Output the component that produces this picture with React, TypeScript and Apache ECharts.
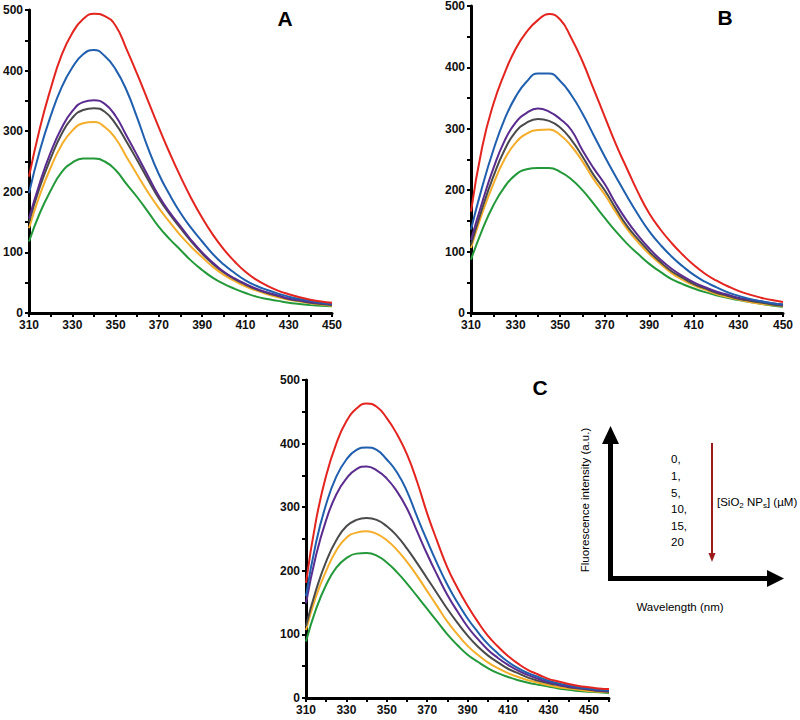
import React, { useEffect, useRef } from "react";
import * as echarts from "echarts";

// Wavelengths (nm)
const X = [310, 315, 320, 325, 330, 335, 340, 345, 350, 355, 360, 365, 370, 375, 380, 385, 390, 395, 400, 405, 410, 415, 420, 425, 430, 435, 440, 445, 450];
const XC = [...X, 455, 460];

// [SiO2 NPs] (µM) levels
const LEVELS = ["0,", "1,", "5,", "10,", "15,", "20"];
const COLORS = ["#e3241f", "#1f5fae", "#5b2c8f", "#4a4a4a", "#f5ae2a", "#23993a"];

// Panel A
const A0 = [225, 305, 370, 425, 462, 485, 494, 490, 474, 436, 394, 350, 306, 264, 225, 189, 157, 129, 105, 85, 68, 55, 45, 37, 31, 26, 22, 19, 17];
const A1 = [198, 268, 325, 372, 405, 427, 434, 424, 402, 368, 322, 272, 229, 195, 165, 140, 118, 97, 80, 66, 54, 45, 38, 32, 27, 23, 20, 17, 15];
const A5 = [156, 215, 265, 305, 333, 348, 351, 345, 325, 293, 260, 226, 193, 166, 143, 120, 100, 83, 68, 57, 48, 40, 34, 29, 24, 21, 18, 16, 14];
const A10 = [150, 208, 255, 295, 322, 335, 338, 332, 312, 283, 252, 220, 189, 163, 140, 118, 98, 81, 67, 56, 47, 39, 33, 28, 23, 20, 17, 15, 13];
const A15 = [140, 195, 240, 277, 301, 313, 315, 307, 288, 258, 228, 199, 173, 150, 128, 109, 92, 76, 63, 53, 44, 37, 31, 26, 22, 19, 16, 14, 12];
const A20 = [118, 165, 202, 232, 248, 255, 255, 250, 236, 213, 191, 167, 142, 122, 104, 86, 71, 58, 48, 40, 33, 27, 23, 20, 17, 15, 13, 12, 11];

// Panel B
const B0 = [165, 270, 340, 390, 430, 458, 477, 487, 478, 448, 410, 365, 320, 275, 235, 196, 162, 136, 114, 95, 78, 64, 53, 44, 36, 30, 25, 21, 18];
const B1 = [136, 205, 265, 315, 352, 377, 390, 390, 378, 355, 325, 290, 255, 222, 190, 160, 133, 111, 92, 76, 62, 51, 42, 34, 28, 23, 19, 16, 14];
const B5 = [119, 180, 235, 280, 310, 326, 333, 328, 316, 298, 265, 236, 210, 178, 150, 126, 105, 87, 72, 60, 50, 42, 35, 30, 25, 22, 19, 16, 14];
const B10 = [111, 170, 222, 265, 295, 310, 316, 313, 302, 282, 255, 225, 200, 170, 142, 120, 100, 83, 68, 57, 47, 40, 33, 28, 23, 20, 17, 14, 12];
const B15 = [106, 162, 210, 250, 277, 292, 298, 299, 290, 272, 247, 218, 193, 164, 137, 115, 96, 80, 65, 54, 45, 38, 31, 26, 22, 18, 15, 13, 11];
const B20 = [87, 135, 175, 205, 225, 234, 236, 236, 230, 218, 200, 178, 155, 133, 113, 96, 80, 67, 55, 47, 40, 34, 29, 25, 21, 18, 15, 12, 10];

// Panel C
const C0 = [181, 280, 350, 400, 435, 455, 463, 458, 440, 415, 383, 340, 290, 246, 205, 173, 145, 120, 98, 81, 66, 54, 44, 37, 30, 26, 22, 19, 17, 15, 14];
const C1 = [160, 245, 305, 348, 375, 390, 394, 390, 375, 355, 325, 285, 247, 211, 178, 150, 125, 104, 85, 70, 57, 47, 39, 33, 27, 23, 20, 17, 15, 13, 12];
const C5 = [149, 225, 280, 320, 345, 360, 364, 358, 345, 325, 298, 262, 226, 193, 162, 136, 112, 93, 76, 63, 52, 43, 36, 30, 25, 21, 18, 16, 14, 12, 11];
const C10 = [113, 170, 215, 248, 270, 280, 283, 280, 270, 255, 235, 212, 188, 164, 140, 118, 98, 81, 67, 56, 46, 39, 32, 27, 23, 20, 17, 15, 13, 11, 10];
const C15 = [107, 160, 200, 232, 252, 260, 262, 258, 248, 233, 214, 192, 168, 144, 120, 100, 82, 68, 56, 47, 39, 33, 28, 24, 20, 17, 15, 13, 11, 10, 9];
const C20 = [89, 140, 178, 205, 220, 227, 228, 224, 213, 198, 180, 160, 140, 120, 100, 83, 68, 57, 47, 39, 33, 28, 24, 21, 18, 15, 13, 11, 10, 9, 8];

const PANEL_A = [A0, A1, A5, A10, A15, A20];
const PANEL_B = [B0, B1, B5, B10, B15, B20];
const PANEL_C = [C0, C1, C5, C10, C15, C20];

const FONT = "'Liberation Sans', Arial, sans-serif";

function xAxis(gridIndex: number, max: number) {
  return {
    type: "value",
    gridIndex,
    min: 310,
    max,
    interval: 10,
    axisLine: { show: true, onZero: false, lineStyle: { color: "#000", width: 3 } },
    axisTick: { show: true, length: 4, lineStyle: { color: "#000", width: 2 } },
    splitLine: { show: false },
    axisLabel: {
      margin: 6,
      fontFamily: FONT,
      fontSize: 12,
      fontWeight: "bold",
      color: "#111",
      formatter: (v: number) => ((v - 310) % 20 === 0 ? String(v) : ""),
    },
  };
}

function yAxis(gridIndex: number) {
  return {
    type: "value",
    gridIndex,
    min: 0,
    max: 500,
    interval: 50,
    axisLine: { show: true, onZero: false, lineStyle: { color: "#000", width: 3 } },
    axisTick: { show: true, length: 4, lineStyle: { color: "#000", width: 2 } },
    splitLine: { show: false },
    axisLabel: {
      margin: 6,
      fontFamily: FONT,
      fontSize: 12,
      fontWeight: "bold",
      color: "#111",
      formatter: (v: number) => (v % 100 === 0 ? String(v) : ""),
    },
  };
}

function panelSeries(panel: number[][], xs: number[], idx: number) {
  return panel.map((vals, i) => ({
    type: "line",
    name: LEVELS[i],
    xAxisIndex: idx,
    yAxisIndex: idx,
    data: vals.map((v, j) => [xs[j], v]),
    smooth: 0.5,
    showSymbol: false,
    symbol: "none",
    lineStyle: { color: COLORS[i], width: 2 },
    itemStyle: { color: COLORS[i] },
    z: 10 - i,
  }));
}

export default function App() {
  const ref = useRef<HTMLDivElement>(null);
  useEffect(() => {
    if (!ref.current) return;
    const chart = echarts.init(ref.current, null, { renderer: "svg" });
    const numY = [459, 476, 493, 509, 526, 542];
    const option: any = {
      animation: false,
      backgroundColor: "#fff",
      grid: [
        { left: 28, top: 10, width: 304, height: 303 },
        { left: 471, top: 6, width: 312, height: 307 },
        { left: 306, top: 380, width: 303, height: 318 },
      ],
      xAxis: [xAxis(0, 450), xAxis(1, 450), xAxis(2, 460)],
      yAxis: [yAxis(0), yAxis(1), yAxis(2)],
      series: [
        ...panelSeries(PANEL_A, X, 0),
        ...panelSeries(PANEL_B, X, 1),
        ...panelSeries(PANEL_C, XC, 2),
      ],
      graphic: [
        { type: "text", x: 285, y: 18, style: { text: "A", font: `bold 21px ${FONT}`, fill: "#000", textAlign: "center", textVerticalAlign: "middle" } },
        { type: "text", x: 725, y: 17, style: { text: "B", font: `bold 21px ${FONT}`, fill: "#000", textAlign: "center", textVerticalAlign: "middle" } },
        { type: "text", x: 540, y: 387, style: { text: "C", font: `bold 21px ${FONT}`, fill: "#000", textAlign: "center", textVerticalAlign: "middle" } },
        // schematic axes
        { type: "rect", shape: { x: 608, y: 440, width: 5, height: 141 }, style: { fill: "#000" } },
        { type: "polygon", shape: { points: [[602, 444], [619, 444], [610.5, 426]] }, style: { fill: "#000" } },
        { type: "rect", shape: { x: 608, y: 576, width: 162, height: 5 }, style: { fill: "#000" } },
        { type: "polygon", shape: { points: [[767, 570], [767, 587], [784, 578.5]] }, style: { fill: "#000" } },
        {
          type: "text", x: 585, y: 500, rotation: Math.PI / 2,
          style: { text: "Fluorescence intensity (a.u.)", font: `11.5px ${FONT}`, fill: "#000", textAlign: "center", textVerticalAlign: "middle" },
        },
        { type: "text", x: 680, y: 607, style: { text: "Wavelength (nm)", font: `11.5px ${FONT}`, fill: "#000", textAlign: "center", textVerticalAlign: "middle" } },
        ...LEVELS.map((t, i) => ({
          type: "text", x: 671, y: numY[i],
          style: { text: t, font: `11.5px ${FONT}`, fill: "#000", textAlign: "left", textVerticalAlign: "middle" },
        })),
        { type: "line", shape: { x1: 712, y1: 443, x2: 712, y2: 555 }, style: { stroke: "#9b1b1b", lineWidth: 2 } },
        { type: "polygon", shape: { points: [[708.5, 553], [715.5, 553], [712, 562]] }, style: { fill: "#9b1b1b" } },
        {
          type: "text", x: 717, y: 502,
          style: {
            text: "{b|[SiO}{s|2}{b| NP}{s|s}{b|] (µM)}",
            textAlign: "left", textVerticalAlign: "middle",
            rich: {
              b: { fontFamily: FONT, fontSize: 11.5, lineHeight: 15, fill: "#000", color: "#000", verticalAlign: "middle" },
              s: { fontFamily: FONT, fontSize: 8, lineHeight: 15, fill: "#000", color: "#000", verticalAlign: "bottom" },
            },
          },
        },
      ],
    };
    chart.setOption(option);
    return () => chart.dispose();
  }, []);
  return (
    <div
      ref={ref}
      style={{ position: "absolute", left: 0, top: 0, width: 800, height: 720, background: "#fff" }}
    />
  );
}
